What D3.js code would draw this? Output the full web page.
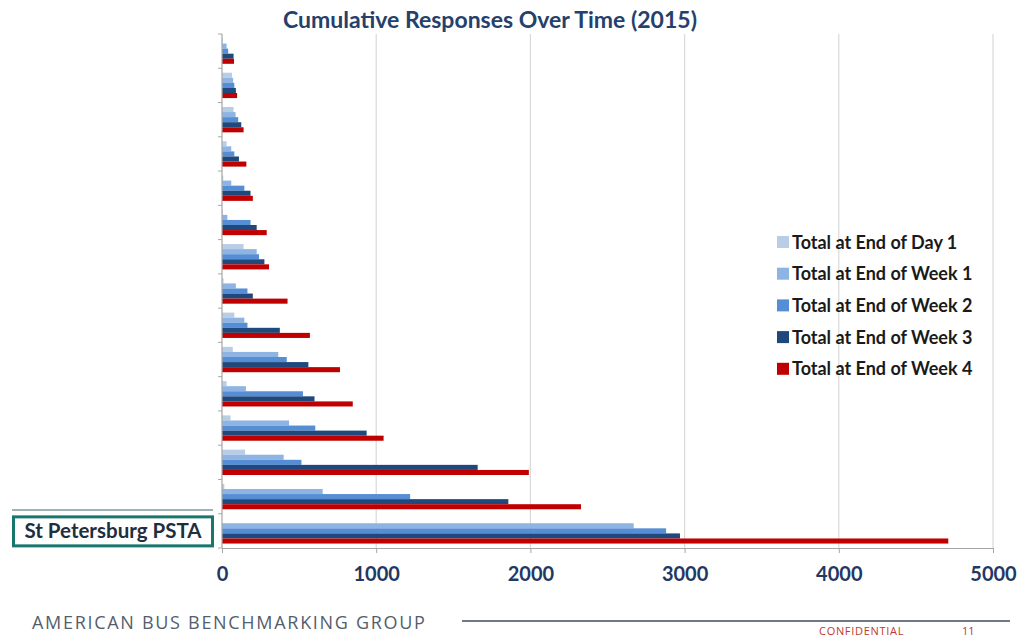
<!DOCTYPE html>
<html>
<head>
<meta charset="utf-8">
<script src="https://cdn.jsdelivr.net/npm/d3@7"></script>
<style>
  html, body { margin: 0; padding: 0; background: #ffffff; }
  svg { display: block; }
</style>
</head>
<body>
<svg id="chart" width="1018" height="639"></svg>
<script>
// Groups from top to bottom; only the highlighted agency is named.
const categories = ["", "", "", "", "", "", "", "", "", "", "", "", "", "", "St Petersburg PSTA"];
const seriesNames = [
  "Total at End of Day 1",
  "Total at End of Week 1",
  "Total at End of Week 2",
  "Total at End of Week 3",
  "Total at End of Week 4"
];
const day1  = [5, 65, 75, 30, 8, 5, 140, 10, 80, 70, 30, 55, 150, 15, 0];
const week1 = [30, 72, 88, 60, 60, 35, 225, 90, 145, 365, 155, 435, 400, 653, 2670];
const week2 = [40, 80, 105, 80, 145, 185, 240, 165, 165, 420, 525, 605, 515, 1220, 2880];
const week3 = [75, 90, 125, 110, 185, 225, 275, 200, 375, 560, 600, 938, 1658, 1857, 2970];
const week4 = [78, 98, 140, 158, 200, 290, 305, 425, 570, 765, 848, 1048, 1990, 2328, 4710];
const xTicks = [0, 1000, 2000, 3000, 4000, 5000];
const colors = ["#b9cde5", "#8eb4e3", "#558ed5", "#1f497d", "#c00000"];

const series = [day1, week1, week2, week3, week4];
const svg = d3.select("#chart");

const plot = { left: 222, right: 993, top: 34, bottom: 548 };

const x = d3.scaleLinear().domain([0, 5000]).range([plot.left, plot.right]);
const y = d3.scaleBand()
  .domain(d3.range(categories.length))
  .range([plot.top, plot.bottom])
  .paddingInner(0.26)
  .paddingOuter(0.13);
const ySub = d3.scaleBand()
  .domain(d3.range(series.length))
  .range([0, y.bandwidth()]);

// Vertical gridlines
svg.append("g")
  .selectAll("line")
  .data(xTicks.slice(1))
  .join("line")
  .attr("x1", d => x(d)).attr("x2", d => x(d))
  .attr("y1", plot.top).attr("y2", plot.bottom)
  .attr("stroke", "#d9d9d9").attr("stroke-width", 1.2);

// Bars
const groups = svg.append("g")
  .selectAll("g")
  .data(categories.map((c, i) => i))
  .join("g")
  .attr("transform", i => `translate(0,${y(i)})`);

groups.selectAll("rect")
  .data(i => series.map((s, k) => ({ k, v: s[i] })))
  .join("rect")
  .attr("x", x(0))
  .attr("y", d => ySub(d.k))
  .attr("width", d => Math.max(0, x(d.v) - x(0)))
  .attr("height", ySub.bandwidth())
  .attr("fill", d => colors[d.k]);

// X axis
const xAxis = svg.append("g")
  .attr("transform", `translate(0,${plot.bottom})`)
  .call(d3.axisBottom(x).tickValues(xTicks).tickSize(5).tickSizeOuter(0).tickFormat(d3.format("d")).tickPadding(14));
xAxis.select(".domain").attr("stroke", "#a6a6a6").attr("stroke-width", 1.2);
xAxis.selectAll(".tick line").attr("stroke", "#a6a6a6");
xAxis.selectAll(".tick text")
  .attr("fill", "#1f3864")
  .style("font-family", "Lato, 'Open Sans', sans-serif")
  .style("font-weight", "bold")
  .style("font-size", "20px");

// Y axis with tick marks at category boundaries
svg.append("line")
  .attr("x1", plot.left).attr("x2", plot.left)
  .attr("y1", plot.top).attr("y2", plot.bottom)
  .attr("stroke", "#a6a6a6").attr("stroke-width", 1.2);
svg.append("g")
  .selectAll("line")
  .data(d3.range(categories.length + 1))
  .join("line")
  .attr("x1", plot.left - 4).attr("x2", plot.left)
  .attr("y1", i => plot.top + i * y.step())
  .attr("y2", i => plot.top + i * y.step())
  .attr("stroke", "#a6a6a6");

// Highlighted category label in a framed box
const hi = categories.length - 1;
const hiMid = y(hi) + y.bandwidth() / 2;
svg.append("line")
  .attr("x1", 12).attr("x2", 213)
  .attr("y1", 510).attr("y2", 510)
  .attr("stroke", "#9fb3b3").attr("stroke-width", 2);
svg.append("rect")
  .attr("x", 13.5).attr("y", hiMid - 14)
  .attr("width", 199).attr("height", 29)
  .attr("fill", "#ffffff")
  .attr("stroke", "#17776f").attr("stroke-width", 3);
svg.append("text")
  .attr("x", 113).attr("y", hiMid + 7.5)
  .attr("text-anchor", "middle")
  .attr("fill", "#1e2f40")
  .style("font-family", "Lato, 'Open Sans', sans-serif")
  .style("font-weight", "bold")
  .style("font-size", "20.5px")
  .text(categories[hi]);

// Title
svg.append("text")
  .attr("x", 490).attr("y", 28)
  .attr("text-anchor", "middle")
  .attr("fill", "#25416b")
  .style("font-family", "Lato, 'Open Sans', sans-serif")
  .style("font-weight", "bold")
  .style("font-size", "23px")
  .text("Cumulative Responses Over Time (2015)");

// Legend
const legend = svg.append("g").attr("transform", "translate(777,242)");
const item = legend.selectAll("g")
  .data(seriesNames)
  .join("g")
  .attr("transform", (d, i) => `translate(0,${i * 31.7})`);
item.append("rect")
  .attr("x", 0).attr("y", -6)
  .attr("width", 12).attr("height", 12)
  .attr("fill", (d, i) => colors[i]);
item.append("text")
  .attr("x", 15).attr("y", 6.5)
  .attr("fill", "#1a1a1a")
  .style("font-family", "Lato, 'Open Sans', sans-serif")
  .style("font-weight", "bold")
  .style("font-size", "18px")
  .text(d => d);

// Footer
svg.append("text")
  .attr("x", 32).attr("y", 629)
  .attr("fill", "#535e6c")
  .style("font-family", "'Open Sans', sans-serif")
  .style("font-size", "18px")
  .style("letter-spacing", "1.7px")
  .text("AMERICAN BUS BENCHMARKING GROUP");
svg.append("line")
  .attr("x1", 462).attr("x2", 1010)
  .attr("y1", 621).attr("y2", 621)
  .attr("stroke", "#3f4b66").attr("stroke-width", 1.5);
svg.append("text")
  .attr("x", 819).attr("y", 635)
  .attr("fill", "#c0392b")
  .style("font-family", "'Open Sans', sans-serif")
  .style("font-size", "11px")
  .style("letter-spacing", "0.7px")
  .text("CONFIDENTIAL");
svg.append("text")
  .attr("x", 962).attr("y", 635)
  .attr("fill", "#c0392b")
  .style("font-family", "'Open Sans', sans-serif")
  .style("font-size", "11px")
  .text("11");
</script>
</body>
</html>
